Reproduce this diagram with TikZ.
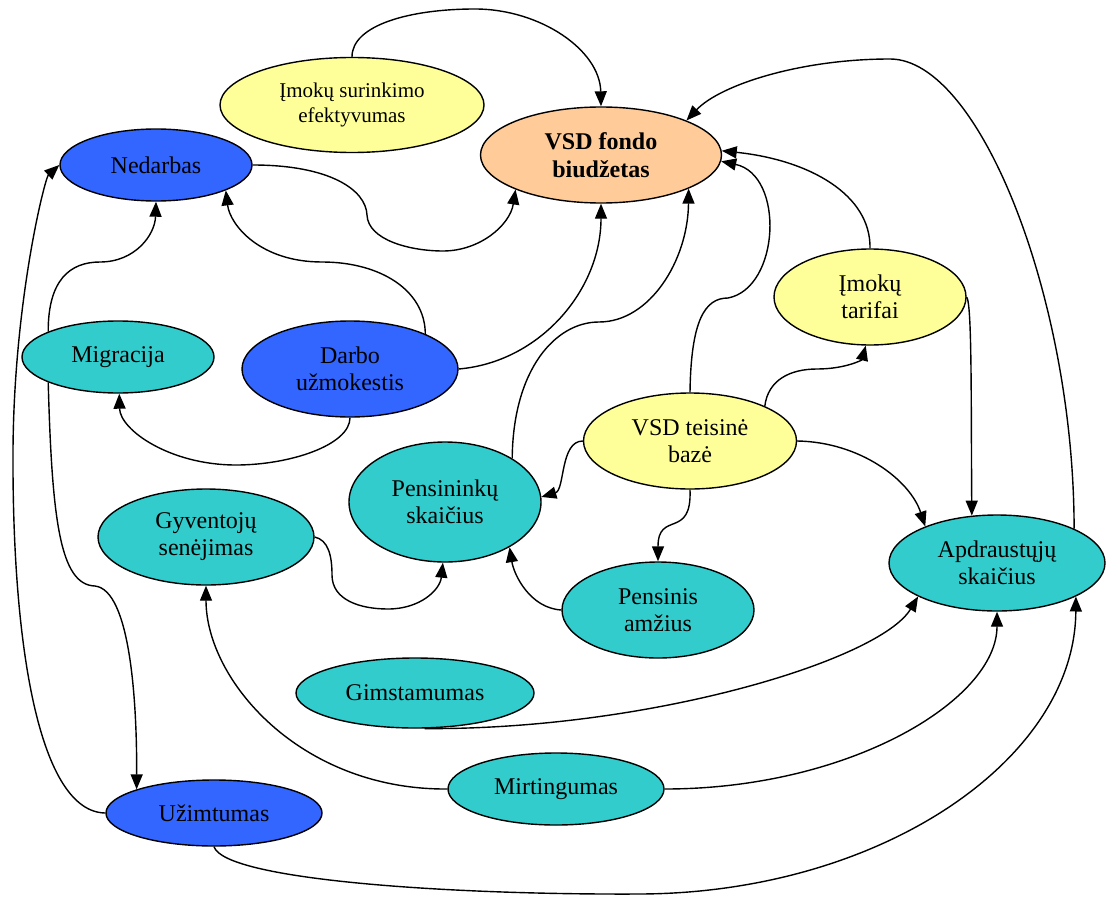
\documentclass[tikz,border=0pt]{standalone}
\usepackage{fontspec}
\setmainfont{Liberation Serif}
\usepackage{tikz}
\usetikzlibrary{shapes.geometric,arrows.meta}
\definecolor{imyellow}{HTML}{FFFF99}
\definecolor{fundpeach}{HTML}{FFCC99}
\definecolor{labourblue}{HTML}{3366FF}
\definecolor{demoteal}{HTML}{33CCCC}

\begin{document}
\begin{tikzpicture}[x=1pt, y=-1pt,
    oval/.style={ellipse, draw, line width=1.4pt, inner sep=0pt, align=center,
      font=\fontsize{24}{27}\selectfont},
    link/.style={line width=1.4pt, -{Triangle[length=15pt, width=12pt]}}]
    \useasboundingbox (0,0) rectangle (1107,896);

    \node [oval, fill=imyellow, minimum width=264pt, minimum height=95pt,
      font=\fontsize{21}{25}\selectfont] (surink) at (352,105) {Įmokų surinkimo\\efektyvumas};
    \node [oval, fill=fundpeach, minimum width=241pt, minimum height=96pt,
      font=\fontsize{24}{28}\selectfont\bfseries] (fondas) at (601,155) {VSD fondo\\biudžetas};
    \node [oval, fill=labourblue, minimum width=192pt, minimum height=72pt] (nedarb) at (156,165) {Nedarbas};
    \node [oval, fill=demoteal, minimum width=192pt, minimum height=72pt] (migr) at (118,357) {Migracija};
    \node [oval, fill=labourblue, minimum width=216pt, minimum height=96pt] (darbo) at (350,369) {Darbo\\užmokestis};
    \node [oval, fill=imyellow, minimum width=192pt, minimum height=96pt] (tarif) at (870,297) {Įmokų\\tarifai};
    \node [oval, fill=imyellow, minimum width=213pt, minimum height=96pt] (teis) at (690,441) {VSD teisinė\\bazė};
    \node [oval, fill=demoteal, minimum width=192pt, minimum height=120pt] (pensin) at (445,502) {Pensininkų\\skaičius};
    \node [oval, fill=demoteal, minimum width=216pt, minimum height=96pt] (gyv) at (206,537) {Gyventojų\\senėjimas};
    \node [oval, fill=demoteal, minimum width=192pt, minimum height=96pt] (pamz) at (658,610) {Pensinis\\amžius};
    \node [oval, fill=demoteal, minimum width=216pt, minimum height=96pt] (apdr) at (997,563) {Apdraustųjų\\skaičius};
    \node [oval, fill=demoteal, minimum width=238pt, minimum height=70pt] (gimst) at (415,693) {Gimstamumas};
    \node [oval, fill=demoteal, minimum width=216pt, minimum height=72pt] (mirt) at (556,789) {Mirtingumas};
    \node [oval, fill=labourblue, minimum width=216pt, minimum height=66pt] (uzimt) at (214,813) {Užimtumas};

    \draw [link] (surink.north) .. controls (352,25) and (410,9) .. (475,9)
      .. controls (540,9) and (600,50) .. (fondas.north);
    \draw [link] (apdr.24) .. controls (1074,300) and (980,59) .. (890,59)
      .. controls (800,59) and (720,85) .. (fondas.22);
    \draw [link] (tarif.north) .. controls (871,195) and (810,160) .. (fondas.2);
    \draw [link] (teis.north) .. controls (691,320) and (705,298) .. (728,298)
      .. controls (780,288) and (785,175) .. (fondas.-3);
    \draw [link] (teis.25) .. controls (768,380) and (790,369) .. (817,369)
      .. controls (845,369) and (862,360) .. (tarif.-95);
    \draw [link] (tarif.east) .. controls (972,305) and (971,400) .. (apdr.118);
    \draw [link] (teis.0) .. controls (860,442) and (910,480) .. (apdr.153);
    \draw [link] (teis.180) .. controls (560,441) and (565,490) .. (pensin.3);
    \draw [link] (teis.south) .. controls (692,540) and (658,510) .. (pamz.north);
    \draw [link] (pamz.west) .. controls (530,608) and (514,575) .. (pensin.-35);
    \draw [link] (pensin.33) .. controls (513,370) and (555,322) .. (599,322)
      .. controls (650,322) and (688,260) .. (fondas.-21);
    \draw [link] (darbo.east) .. controls (540,362) and (601,290) .. (fondas.south);
    \draw [link] (nedarb.east) .. controls (330,165) and (366,190) .. (367,215)
      .. controls (368,240) and (410,251) .. (443,251)
      .. controls (480,251) and (510,225) .. (fondas.202);
    \draw [link] (darbo.25) .. controls (425,290) and (380,262) .. (322,262)
      .. controls (260,262) and (230,225) .. (nedarb.-20);
    \draw [link] (migr.160) .. controls (48,280) and (70,262) .. (100,262)
      .. controls (135,262) and (155,235) .. (nedarb.south);
    \draw [link] (darbo.south) .. controls (350,445) and (290,465) .. (236,465)
      .. controls (170,465) and (120,430) .. (migr.-88);
    \draw [link] (migr.200) .. controls (52,520) and (60,585) .. (95,586)
      .. controls (130,590) and (137,700) .. (uzimt.163);
    \draw [link] (uzimt.west) .. controls (40,812) and (12,650) .. (13,450)
      .. controls (14,300) and (45,178) .. (nedarb.west);
    \draw [link] (uzimt.south) .. controls (225,880) and (450,895) .. (640,894)
      .. controls (880,893) and (1075,760) .. (apdr.-23);
    \draw [link] (gimst.-75) .. controls (650,730) and (880,660) .. (apdr.203);
    \draw [link] (mirt.west) .. controls (300,790) and (206,680) .. (gyv.south);
    \draw [link] (mirt.east) .. controls (850,789) and (997,700) .. (apdr.south);
    \draw [link] (gyv.east) .. controls (328,540) and (332,555) .. (332,575)
      .. controls (332,600) and (360,609) .. (388,609)
      .. controls (420,609) and (440,590) .. (pensin.-92);
  \end{tikzpicture}
\end{document}
